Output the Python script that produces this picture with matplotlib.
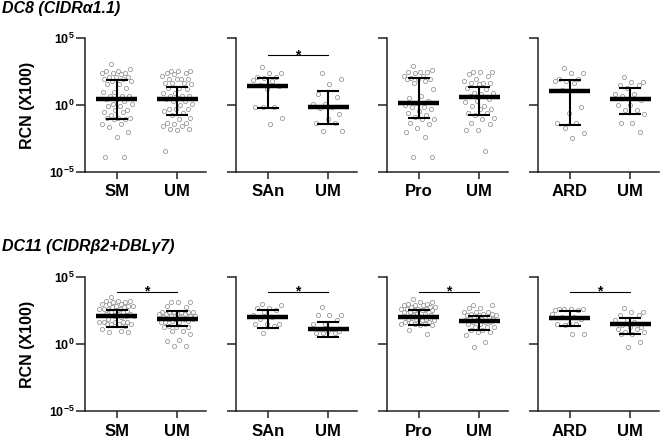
import numpy as np
import matplotlib.pyplot as plt

plt.rcParams['font.family'] = ['Liberation Sans', 'DejaVu Sans']
plt.rcParams['mathtext.fontset'] = 'custom'
plt.rcParams['mathtext.rm'] = 'Liberation Sans'
plt.rcParams['mathtext.bf'] = 'Liberation Sans:bold'

# group labels per panel
cats = [['SM', 'UM'], ['SAn', 'UM'], ['Pro', 'UM'], ['ARD', 'UM']]

# ---- DC8 (log10 of RCN values) ----
dc8_sm = [3.03, 2.66, 2.54, 2.54, 2.41, 2.41, 2.41, 2.29, 2.09, 2.09, 2.09, 1.97, 1.97, 1.79, 1.79,
          1.54, 1.54, 1.29, 0.97, 0.97, 0.67, 0.67, 0.67, 0.42, 0.42, 0.30, 0.05, 0.05, -0.07, -0.07,
          -0.37, -0.37, -0.52, -0.52, -0.77, -0.95, -0.95, -0.95, -1.07, -1.07, -1.39, -1.39, -1.62,
          -2.01, -2.36, -3.86, -3.86]
dc8_um1 = [2.54, 2.54, 2.54, 2.41, 2.41, 2.29, 2.16, 1.97, 1.97, 1.97, 1.92, 1.67, 1.67, 1.67, 1.54,
           1.29, 1.29, 1.17, 0.92, 0.92, 0.67, 0.67, 0.67, 0.55, 0.42, 0.30, 0.30, 0.05, -0.02, -0.32,
           -0.32, -0.32, -0.45, -0.57, -0.77, -0.95, -1.07, -1.32, -1.32, -1.44, -1.57, -1.57, -1.82,
           -1.82, -1.89, -3.43]
dc8_san = [2.84, 2.39, 2.39, 2.10, 2.10, 2.05, 1.87, 1.80, 1.50, 1.44, 1.20, -0.15, -0.15, -0.15,
           -0.97, -1.42]
dc8_um2 = [2.41, 1.92, 1.54, 0.80, 0.62, 0.10, 0.05, -0.12, -0.20, -0.70, -1.02, -1.37, -1.37,
           -1.94, -1.94]
dc8_pro = [2.91, 2.61, 2.46, 2.46, 2.46, 2.36, 2.16, 2.16, 2.04, 1.92, 1.92, 1.92, 1.79, 1.67, 1.22,
           0.67, 0.55, 0.30, 0.17, -0.02, -0.12, -0.12, -0.32, -0.45, -0.57, -0.77, -0.87, -1.02,
           -1.07, -1.32, -1.44, -1.69, -2.01, -2.36, -3.86, -3.86]
dc8_um3 = [2.46, 2.46, 2.46, 2.29, 2.16, 1.92, 1.79, 1.62, 1.62, 1.62, 1.54, 1.29, 1.17, 0.92, 0.92,
           0.80, 0.67, 0.42, 0.30, 0.22, -0.07, -0.07, -0.32, -0.32, -0.57, -0.57, -0.77, -0.95,
           -1.02, -1.32, -1.44, -1.87, -1.87, -3.43]
dc8_ard = [2.79, 2.36, 2.36, 1.97, 1.97, 1.79, 1.79, 1.67, 1.12, -0.12, -0.62, -1.32, -1.32, -1.69,
           -2.06, -2.44]
dc8_um4 = [2.11, 1.72, 1.72, 1.47, 1.47, 1.29, 0.80, 0.80, 0.67, 0.37, -0.02, -0.02, -0.37, -0.37,
           -0.70, -1.37, -1.37, -2.01]

# ---- DC11 ----
dc11_sm = [3.53, 3.23, 3.23, 3.23, 3.11, 3.11, 2.99, 2.99, 2.99, 2.86, 2.86, 2.86, 2.74, 2.74, 2.61,
           2.61, 2.61, 2.61, 2.49, 2.49, 2.36, 2.36, 2.24, 2.24, 2.24, 2.11, 2.11, 2.11, 1.99, 1.87,
           1.62, 1.62, 1.62, 1.62, 1.62, 1.49, 1.49, 1.49, 1.49, 1.37, 1.12, 1.00, 0.87, 0.87]
dc11_um1 = [3.11, 3.11, 3.11, 2.86, 2.74, 2.36, 2.36, 2.36, 2.36, 2.36, 2.36, 2.24, 2.24, 2.24, 2.24,
            2.11, 2.11, 2.11, 1.99, 1.99, 1.87, 1.87, 1.87, 1.87, 1.74, 1.74, 1.62, 1.62, 1.62, 1.37,
            1.24, 1.24, 1.24, 1.00, 1.00, 0.75, 0.32, 0.25, -0.12, -0.12]
dc11_san = [2.99, 2.91, 2.66, 2.66, 2.54, 2.36, 2.16, 2.04, 1.87, 1.49, 1.49, 1.49, 1.37, 0.82]
dc11_um2 = [2.76, 2.16, 2.16, 2.16, 1.77, 1.47, 1.47, 1.10, 1.10, 1.00, 0.95, 0.82, 0.82, 0.82]
dc11_pro = [3.38, 3.13, 3.13, 3.01, 3.01, 2.89, 2.89, 2.89, 2.76, 2.76, 2.76, 2.64, 2.64, 2.64, 2.64,
            2.51, 2.51, 2.51, 2.39, 2.39, 2.26, 2.26, 2.14, 2.14, 1.89, 1.89, 1.89, 1.77, 1.77, 1.64,
            1.64, 1.64, 1.52, 1.52, 1.52, 1.39, 1.39, 1.02, 0.77]
dc11_um3 = [2.94, 2.94, 2.69, 2.69, 2.39, 2.39, 2.39, 2.26, 2.26, 2.26, 2.14, 2.14, 2.14, 2.01, 2.01,
            1.89, 1.89, 1.89, 1.77, 1.77, 1.64, 1.64, 1.64, 1.52, 1.52, 1.27, 1.27, 1.27, 1.02, 1.02,
            0.90, 0.90, 0.65, 0.15, -0.22]
dc11_ard = [2.64, 2.64, 2.64, 2.64, 2.51, 2.51, 2.26, 2.01, 2.01, 1.89, 1.52, 1.52, 1.52, 1.39, 0.77,
            0.77]
dc11_um4 = [2.69, 2.39, 2.39, 2.14, 2.14, 1.77, 1.77, 1.64, 1.39, 1.27, 1.27, 1.14, 1.14, 0.90, 0.90,
            0.77, 0.77, 0.15, -0.22]

# median / lower / upper bars (log10), per panel [group1, group2]
dc8_med = [[0.45, 0.47], [1.44, -0.17], [0.12, 0.57], [1.04, 0.42]]
dc8_lo = [[-1.07, -0.77], [-0.20, -1.42], [-0.95, -0.77], [-1.47, -0.65]]
dc8_hi = [[1.87, 1.37], [2.01, 1.04], [2.04, 1.37], [1.84, 1.27]]
dc11_med = [[2.06, 1.87], [2.01, 1.12], [2.01, 1.72], [1.97, 1.47]]
dc11_lo = [[1.24, 1.37], [1.17, 0.52], [1.44, 1.07], [1.34, 0.77]]
dc11_hi = [[2.56, 2.49], [2.51, 1.64], [2.51, 2.09], [2.44, 1.94]]

# significance bar height (log10) per panel, None = no bar
dc8_sig = [None, 3.73, None, None]
dc11_sig = [3.9, 3.9, 3.9, 3.9]

rows = [
    dict(title='DC8 (CIDRα1.1)', data=[[dc8_sm, dc8_um1], [dc8_san, dc8_um2], [dc8_pro, dc8_um3], [dc8_ard, dc8_um4]],
         med=dc8_med, lo=dc8_lo, hi=dc8_hi, sig=dc8_sig, bottom=172, top=38),
    dict(title='DC11 (CIDRβ2+DBLγ7)', data=[[dc11_sm, dc11_um1], [dc11_san, dc11_um2], [dc11_pro, dc11_um3], [dc11_ard, dc11_um4]],
         med=dc11_med, lo=dc11_lo, hi=dc11_hi, sig=dc11_sig, bottom=411, top=277),
]


def spread(logv, px_dec=13.4, d=4.2, max_px=18, px_unit=60.0):
    # scatter-dot layout: each point aims at a spread-out slot, nudged to avoid overlaps
    y = np.asarray(logv) * px_dec
    order = np.argsort(-y)
    xs = np.zeros(len(y))
    done = []
    cands = np.arange(-max_px, max_px + 0.25, 0.5)
    for k, i in enumerate(order):
        target = ((k * 0.618034 + 0.3) % 1.0 - 0.5) * 2 * max_px * 0.85
        best, best_d = target, -1.0
        for c in sorted(cands, key=lambda c: abs(c - target)):
            md = min([np.hypot(c - xs[j], y[i] - y[j]) for j in done], default=99)
            if md >= d:
                best = c
                break
            if md > best_d:
                best, best_d = c, md
        xs[i] = best
        done.append(i)
    return xs / px_unit


W, H = 660, 438
fig = plt.figure(figsize=(W / 100, H / 100), dpi=100)
lefts = [85, 236, 387, 538]
pw = 121
spine_c = '#222222'

for r, row in enumerate(rows):
    for p in range(4):
        ax = fig.add_axes([lefts[p] / W, 1 - row['bottom'] / H, pw / W, (row['bottom'] - row['top']) / H])
        ax.set_yscale('log')
        ax.set_ylim(1e-5, 1e5)
        ax.set_xlim(-0.53, 1.48)
        for s in ['top', 'right']:
            ax.spines[s].set_visible(False)
        for s in ['left', 'bottom']:
            ax.spines[s].set_linewidth(1.1)
            ax.spines[s].set_color(spine_c)
        ax.set_yticks([1e-5, 1, 1e5])
        ax.yaxis.set_minor_locator(plt.NullLocator())
        if p == 0:
            ax.set_yticklabels([r'$\mathbf{10^{-5}}$', r'$\mathbf{10^{0}}$', r'$\mathbf{10^{5}}$'], fontsize=9)
        else:
            ax.set_yticklabels([])
        ax.tick_params(axis='y', direction='out', length=6.5, width=1.1, color=spine_c, pad=1)
        ax.set_xticks([0, 1])
        ax.set_xticklabels(cats[p], fontsize=12, fontweight='bold')
        ax.tick_params(axis='x', direction='out', length=5, width=1.1, color=spine_c, pad=4)

        for g in range(2):
            vals = np.asarray(row['data'][p][g])
            xo = spread(vals)
            ax.plot(g + xo, 10 ** vals, 'o', ms=3.0, mfc='none', mec='#999999', mew=0.6, zorder=2)
            m, lo, hi = row['med'][p][g], row['lo'][p][g], row['hi'][p][g]
            ax.plot([g - 0.34, g + 0.34], [10 ** m] * 2, color='k', lw=3.2, solid_capstyle='butt', zorder=4)
            ax.plot([g, g], [10 ** lo, 10 ** hi], color='k', lw=1.5, zorder=3)
            for v in (lo, hi):
                ax.plot([g - 0.18, g + 0.18], [10 ** v] * 2, color='k', lw=1.5, solid_capstyle='butt', zorder=3)

        h = row['sig'][p]
        if h is not None:
            ax.plot([0, 1], [10 ** h] * 2, color='k', lw=0.8)
            ax.text(0.5, 10 ** (h - 0.52), '*', ha='center', va='bottom', fontsize=10, fontweight='bold')

    yc = 1 - (row['top'] + row['bottom']) / 2 / H
    fig.text(0.042, yc, 'RCN (X100)', rotation=90, ha='center', va='center', fontsize=11.5, fontweight='bold')
    fig.text(0.003, 1 - (row['top'] - 30) / H, row['title'], ha='left', va='center', fontsize=11.5,
             fontweight='bold', fontstyle='italic')

fig.savefig('out.png', dpi=100)
